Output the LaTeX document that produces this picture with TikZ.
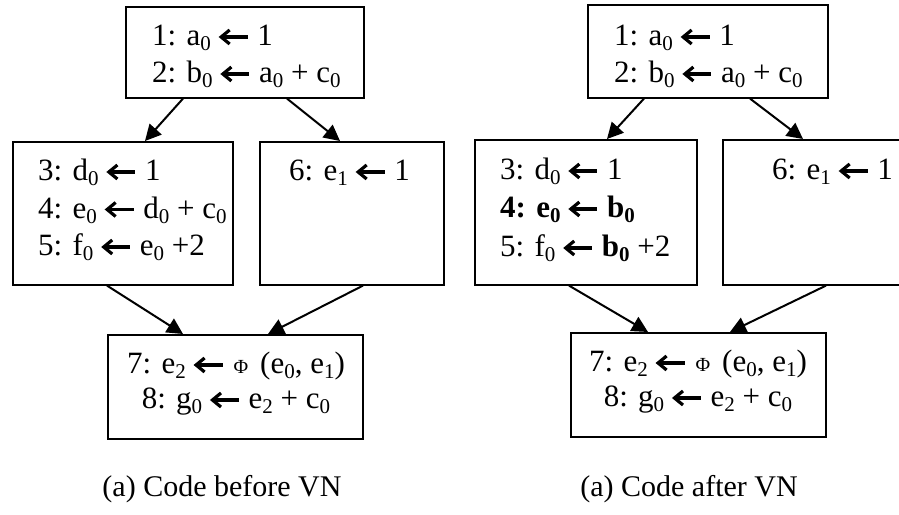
\documentclass[tikz,border=0pt]{standalone}
\usepackage{fontspec}
\setmainfont{Liberation Serif}
\usetikzlibrary{calc,arrows.meta}
\newsavebox\larrbox
\AtBeginDocument{\sbox\larrbox{\begin{pgfpicture}
\pgfsetlinewidth{3.2pt}
\pgfpathmoveto{\pgfpoint{4pt}{0pt}}\pgfpathlineto{\pgfpoint{30pt}{0pt}}\pgfusepath{stroke}
\pgfsetmiterjoin
\pgfpathmoveto{\pgfpoint{12pt}{7pt}}\pgfpathlineto{\pgfpoint{3.5pt}{0pt}}\pgfpathlineto{\pgfpoint{12pt}{-7pt}}\pgfusepath{stroke}
\pgfpathrectangle{\pgfpoint{1pt}{-9pt}}{\pgfpoint{31pt}{1pt}}\pgfusepath{}
\pgfsetbaseline{-9pt}
\end{pgfpicture}}}
\newcommand\lftarr{\usebox\larrbox}
\newcommand\subz[1]{\raisebox{-5pt}{\fontsize{21}{21}\selectfont #1}}
\newcommand\phisym{{\fontsize{20}{20}\selectfont Φ}}
\begin{document}
\begin{tikzpicture}[x=1pt,y=1pt,
  box/.style={draw, line width=1.6pt, inner sep=0pt, anchor=north west},
  ln/.style={anchor=base west, inner sep=0pt, font=\fontsize{31}{37}\selectfont},
  lnc/.style={anchor=base, inner sep=0pt, font=\fontsize{31}{37}\selectfont},
  captxt/.style={anchor=base, inner sep=0pt, font=\fontsize{30}{36}\selectfont},
  arr/.style={line width=2pt, -{Triangle[length=16pt,width=16pt]}}]
\useasboundingbox (0,0) rectangle (899,514);
% ---------- left panel ----------
\node[box, minimum width=238pt, minimum height=91pt] (A) at (125,508) {};
\node[box, minimum width=220pt, minimum height=143pt] (B) at (12,373) {};
\node[box, minimum width=184pt, minimum height=143pt] (C) at (259,373) {};
\node[box, minimum width=255pt, minimum height=104pt] (D) at (107,180) {};
\node[ln] (a1) at ($(A.north west)+(27,-40)$) {1: a\subz{0} \lftarr\ 1};
\node[ln] (a2) at ($(A.north west)+(27,-77)$) {2: b\subz{0} \lftarr\ a\subz{0} + c\subz{0}};
\node[ln] (b1) at ($(B.north west)+(26,-40)$) {3: d\subz{0} \lftarr\ 1};
\node[ln] (b2) at ($(B.north west)+(26,-77.5)$) {4: e\subz{0} \lftarr\ d\subz{0} + c\subz{0}};
\node[ln] (b3) at ($(B.north west)+(26,-115)$) {5: f\subz{0} \lftarr\ e\subz{0} +2};
\node[ln] (c1) at ($(C.north west)+(30,-40)$) {6: e\subz{1} \lftarr\ 1};
\node[lnc] (d1) at ($(D.north west)+(129,-40)$) {7: e\subz{2} \lftarr\hspace{9pt}\phisym\hspace{12pt}(e\subz{0}, e\subz{1})};
\node[lnc] (d2) at ($(D.north west)+(129,-75)$) {8: g\subz{0} \lftarr\ e\subz{2} + c\subz{0}};
\draw[arr] ($(A.south west)+(58,0)$) -- ($(B.north west)+(133,0)$);
\draw[arr] ($(A.south west)+(162,0)$) -- ($(C.north west)+(81,0)$);
\draw[arr] ($(B.south west)+(95,0)$) -- ($(D.north west)+(76,0)$);
\draw[arr] ($(C.south west)+(104,0)$) -- ($(D.north west)+(161,0)$);
\node[captxt] (capL) at (222,18) {(a) Code before VN};
% ---------- right panel ----------
\node[box, minimum width=240pt, minimum height=93pt] (E) at (587,510) {};
\node[box, minimum width=222pt, minimum height=145pt] (F) at (474,375) {};
\node[box, minimum width=200pt, minimum height=145pt] (G) at (722,375) {};
\node[box, minimum width=255pt, minimum height=104pt] (H) at (570,182) {};
\node[ln] (e1) at ($(E.north west)+(27,-42)$) {1: a\subz{0} \lftarr\ 1};
\node[ln] (e2) at ($(E.north west)+(27,-79)$) {2: b\subz{0} \lftarr\ a\subz{0} + c\subz{0}};
\node[ln] (f1) at ($(F.north west)+(26,-41)$) {3: d\subz{0} \lftarr\ 1};
\node[ln] (f2) at ($(F.north west)+(26,-79)$) {\bfseries 4: e\subz{0} \lftarr\ b\subz{0}};
\node[ln] (f3) at ($(F.north west)+(26,-118)$) {5: f\subz{0} \lftarr\ \textbf{b\subz{0}} +2};
\node[ln] (g1) at ($(G.north west)+(50,-41)$) {6: e\subz{1} \lftarr\ 1};
\node[lnc] (h1) at ($(H.north west)+(128,-40)$) {7: e\subz{2} \lftarr\hspace{9pt}\phisym\hspace{12pt}(e\subz{0}, e\subz{1})};
\node[lnc] (h2) at ($(H.north west)+(128,-75)$) {8: g\subz{0} \lftarr\ e\subz{2} + c\subz{0}};
\draw[arr] ($(E.south west)+(57,0)$) -- ($(F.north west)+(133,0)$);
\draw[arr] ($(E.south west)+(163,0)$) -- ($(G.north west)+(81,0)$);
\draw[arr] ($(F.south west)+(95,0)$) -- ($(H.north west)+(78,0)$);
\draw[arr] ($(G.south west)+(104,0)$) -- ($(H.north west)+(160,0)$);
\node[captxt] (capR) at (689,18) {(a) Code after VN};
\end{tikzpicture}
\end{document}
